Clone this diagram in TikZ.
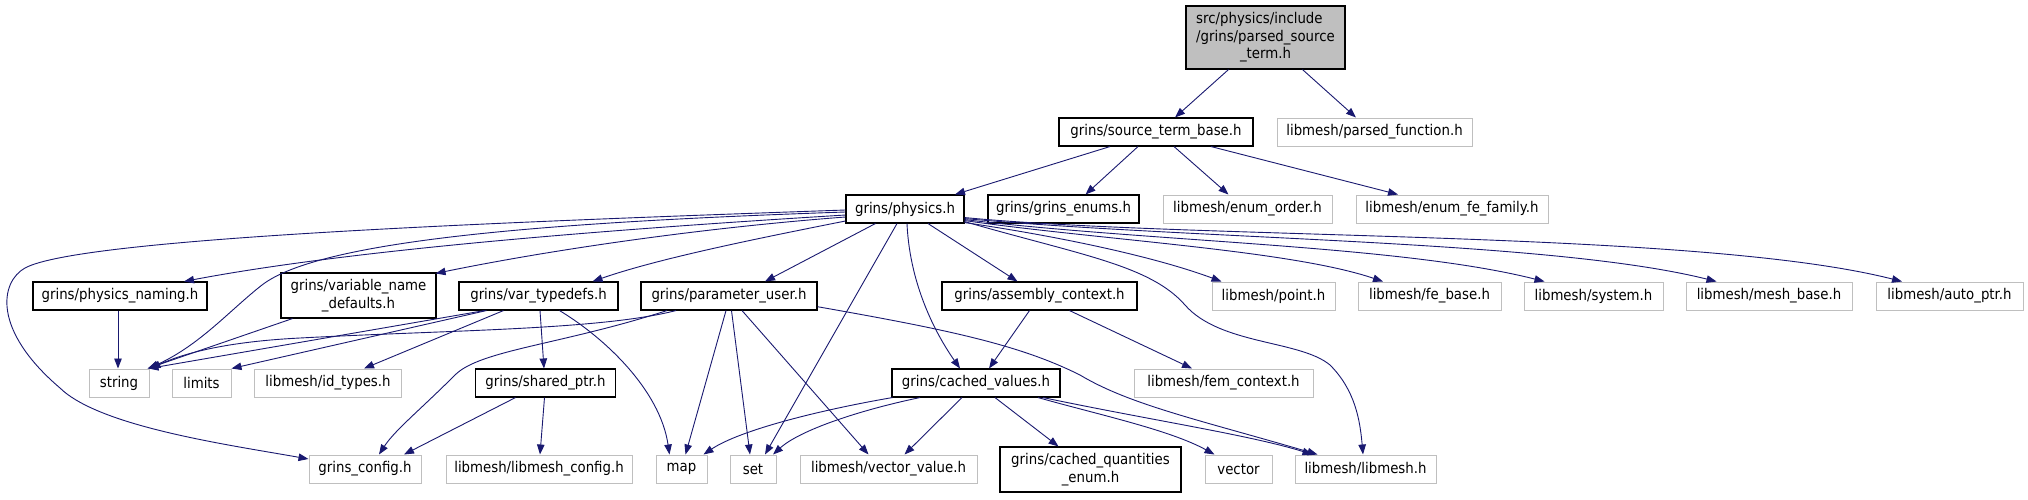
\documentclass[tikz,border=0pt]{standalone}
\usepackage{fontspec}
\newfontfamily\dgfont{DejaVu Sans}[FakeStretch=0.9]
\usetikzlibrary{arrows.meta}
\definecolor{eblue}{HTML}{191970}
\definecolor{grayb}{HTML}{BFBFBF}
\definecolor{topfill}{HTML}{BFBFBF}
\tikzset{
  basebox/.style={draw, minimum height=28pt, inner sep=0pt, align=center,
    font={\dgfont\fontsize{14.8pt}{17.5pt}\selectfont}},
  blk/.style={basebox, draw=black, line width=1.1pt},
  gry/.style={basebox, draw=grayb, line width=1pt},
  edge/.style={draw=eblue, line width=0.9pt, -{Triangle[length=10pt,width=7.5pt]}}
}
\begin{document}
\begin{tikzpicture}[x=1pt,y=-1pt]
\useasboundingbox[fill=white] (0,0) rectangle (2028,499);
% row 1-3
\node[blk, fill=topfill, minimum width=159pt, minimum height=63pt] (top) at (1265.5,37.5) {\rlap{src/physics/include}\phantom{/grins/parsed\_source}\\/grins/parsed\_source\\\_term.h};
\node[blk, minimum width=194pt] (stb) at (1156,132) {grins/source\_term\_base.h};
\node[gry, minimum width=195pt] (pf) at (1374.5,132) {libmesh/parsed\_function.h};
\node[blk, minimum width=118pt] (phys) at (905,209) {grins/physics.h};
\node[blk, minimum width=151pt] (enums) at (1063.5,209) {grins/grins\_enums.h};
\node[gry, minimum width=169pt] (eorder) at (1247.5,209) {libmesh/enum\_order.h};
\node[gry, minimum width=192pt] (efam) at (1452,209) {libmesh/enum\_fe\_family.h};
% row 4
\node[blk, minimum width=174pt] (pnam) at (120,296) {grins/physics\_naming.h};
\node[blk, minimum width=155pt, minimum height=45pt] (vnd) at (358.5,295.5) {grins/variable\_name\\\_defaults.h};
\node[blk, minimum width=159pt] (vtd) at (538.5,296) {grins/var\_typedefs.h};
\node[blk, minimum width=176pt] (pu) at (729,296) {grins/parameter\_user.h};
\node[blk, minimum width=195pt] (ac) at (1039.5,296) {grins/assembly\_context.h};
\node[gry, minimum width=123pt] (point) at (1273.5,296) {libmesh/point.h};
\node[gry, minimum width=143pt] (fe) at (1429.5,296) {libmesh/fe\_base.h};
\node[gry, minimum width=139pt] (sys) at (1593.5,296) {libmesh/system.h};
\node[gry, minimum width=166pt] (mesh) at (1769,296) {libmesh/mesh\_base.h};
\node[gry, minimum width=147pt] (nauto) at (1949.5,296) {libmesh/auto\_ptr.h};
% row 5
\node[gry, minimum width=60pt] (str) at (119,383) {string};
\node[gry, minimum width=59pt] (lim) at (201.5,383) {limits};
\node[gry, minimum width=147pt] (idt) at (328,383) {libmesh/id\_types.h};
\node[blk, minimum width=140pt] (sp) at (545.5,383) {grins/shared\_ptr.h};
\node[blk, minimum width=168pt] (cv) at (976,383) {grins/cached\_values.h};
\node[gry, minimum width=179pt] (fem) at (1223.5,383) {libmesh/fem\_context.h};
% row 6
\node[gry, minimum width=112pt] (gc) at (365,469) {grins\_config.h};
\node[gry, minimum width=186pt] (lmc) at (539,469) {libmesh/libmesh\_config.h};
\node[gry, minimum width=51pt] (nmap) at (681.5,469) {map};
\node[gry, minimum width=46pt] (nset) at (753,469) {set};
\node[gry, minimum width=177pt] (vv) at (888.5,469) {libmesh/vector\_value.h};
\node[blk, minimum width=181pt, minimum height=45pt] (cqe) at (1090.5,469.5) {grins/cached\_quantities\\\_enum.h};
\node[gry, minimum width=67pt] (vec) at (1238.5,469) {vector};
\node[gry, minimum width=141pt] (lm) at (1365.5,469) {libmesh/libmesh.h};
% edges
\draw[edge] ([xshift=-37pt]top.south) -- ([xshift=19pt]stb.north);
\draw[edge] ([xshift=37pt]top.south) -- ([xshift=-18.5pt]pf.north);
\draw[edge] ([xshift=-46pt]stb.south) -- ([xshift=50pt]phys.north);
\draw[edge] ([xshift=-18pt]stb.south) -- ([xshift=22pt]enums.north);
\draw[edge] ([xshift=18pt]stb.south) -- ([xshift=-19pt]eorder.north);
\draw[edge] ([xshift=55pt]stb.south) -- ([xshift=-54pt]efam.north);
% physics to the left
\draw[edge] ([yshift=-1pt]phys.west) .. controls (500,222) and (80,238) .. (25,268)
  .. controls (0,282) and (-8,330) .. (60,388) .. controls (100,427) and (230,445) .. ([yshift=10pt]gc.west);
\draw[edge] ([yshift=-3pt]phys.west) .. controls (550,222) and (320,240) .. (262,285)
  .. controls (230,310) and (200,345) .. ([xshift=-1pt]str.north east);
\draw[edge] ([yshift=-6pt]phys.west) .. controls (600,230) and (350,250) .. ([xshift=64pt]pnam.north);
\draw[edge] ([yshift=-8pt]phys.west) .. controls (700,228) and (550,250) .. ([xshift=-1pt,yshift=-1pt]vnd.north east);
\draw[edge] ([yshift=-12pt]phys.west) .. controls (760,238) and (660,258) .. ([xshift=54pt]vtd.north);
\draw[edge] ([xshift=-29.6pt]phys.south) -- ([xshift=36pt]pu.north);
\draw[edge] ([xshift=-8pt]phys.south) -- ([xshift=12pt]nset.north);
\draw[edge] ([xshift=2pt]phys.south) .. controls (910,290) and (940,340) .. ([xshift=-16pt]cv.north);
\draw[edge] ([xshift=23pt]phys.south) -- ([xshift=-22pt]ac.north);
% physics to the right
\draw[edge] ([yshift=1pt]phys.south east) .. controls (1050,235) and (1150,255) .. ([xshift=-52pt]point.north);
\draw[edge] ([yshift=2pt]phys.south east) .. controls (1080,255) and (1150,265) .. (1185,305)
  .. controls (1220,345) and (1300,340) .. (1330,365) .. controls (1355,390) and (1360,420) .. ([xshift=-2.5pt]lm.north);
\draw[edge] ([yshift=3pt]phys.south east) .. controls (1100,240) and (1290,250) .. ([xshift=-46.5pt]fe.north);
\draw[edge] ([yshift=4pt]phys.south east) .. controls (1150,242) and (1400,245) .. ([xshift=-49pt]sys.north);
\draw[edge] ([yshift=5pt]phys.south east) .. controls (1200,240) and (1550,240) .. ([xshift=-52.5pt]mesh.north);
\draw[edge] ([yshift=6pt]phys.south east) .. controls (1200,240) and (1700,230) .. ([xshift=-47.5pt]nauto.north);
% row 4 sources
\draw[edge] ([xshift=-2pt]pnam.south) -- ([xshift=-1pt]str.north);
\draw[edge] ([xshift=-66pt]vnd.south) -- ([xshift=-2pt]str.north east);
\draw[edge] ([xshift=-54pt]vtd.south) -- ([xshift=-1pt]str.north east);
\draw[edge] ([xshift=-52pt]vtd.south) -- (lim.north east);
\draw[edge] ([xshift=-35pt]vtd.south) -- ([xshift=36pt]idt.north);
\draw[edge] ([xshift=1.5pt]vtd.south) -- ([xshift=-1.5pt]sp.north);
\draw[edge] ([xshift=21pt]vtd.south) .. controls (605,338) and (660,390) .. ([xshift=-12pt]nmap.north);
\draw[edge] ([xshift=-53pt]pu.south) .. controls (600,330) and (450,330) .. (300,338)
  .. controls (220,342) and (180,355) .. ([xshift=1pt]str.north east);
\draw[edge] ([xshift=-62pt]pu.south) .. controls (560,345) and (480,350) .. (455,375)
  .. controls (420,410) and (395,430) .. ([xshift=14pt]gc.north);
\draw[edge] ([xshift=-3pt]pu.south) -- ([xshift=4pt]nmap.north);
\draw[edge] ([xshift=2.5pt]pu.south) -- ([xshift=-3pt]nset.north);
\draw[edge] ([xshift=13pt]pu.south) -- ([xshift=-20pt]vv.north);
\draw[edge] ([yshift=-10.7pt]pu.east) .. controls (950,330) and (1020,345) .. (1080,375)
  .. controls (1130,405) and (1200,420) .. ([xshift=-48pt]lm.north);
\draw[edge] ([xshift=-30pt]sp.south) -- ([xshift=39pt]gc.north);
\draw[edge] ([xshift=-1pt]sp.south) -- ([xshift=1pt]lmc.north);
\draw[edge] ([xshift=-10pt]ac.south) -- ([xshift=13pt]cv.north);
\draw[edge] ([xshift=30pt]ac.south) -- ([xshift=-31.5pt]fem.north);
% cached values
\draw[edge] ([xshift=1pt]cv.south west) .. controls (820,410) and (740,430) .. ([xshift=22pt]nmap.north);
\draw[edge] ([xshift=-56pt]cv.south) .. controls (860,410) and (800,430) .. ([xshift=20pt]nset.north);
\draw[edge] ([xshift=-14pt]cv.south) -- ([xshift=16pt]vv.north);
\draw[edge] ([xshift=19pt]cv.south) -- ([xshift=-32pt]cqe.north);
\draw[edge] ([xshift=62pt]cv.south) .. controls (1100,415) and (1170,430) .. ([xshift=-24pt]vec.north);
\draw[edge] ([xshift=67pt]cv.south) .. controls (1150,420) and (1250,435) .. ([xshift=-53pt]lm.north);
\end{tikzpicture}
\end{document}
